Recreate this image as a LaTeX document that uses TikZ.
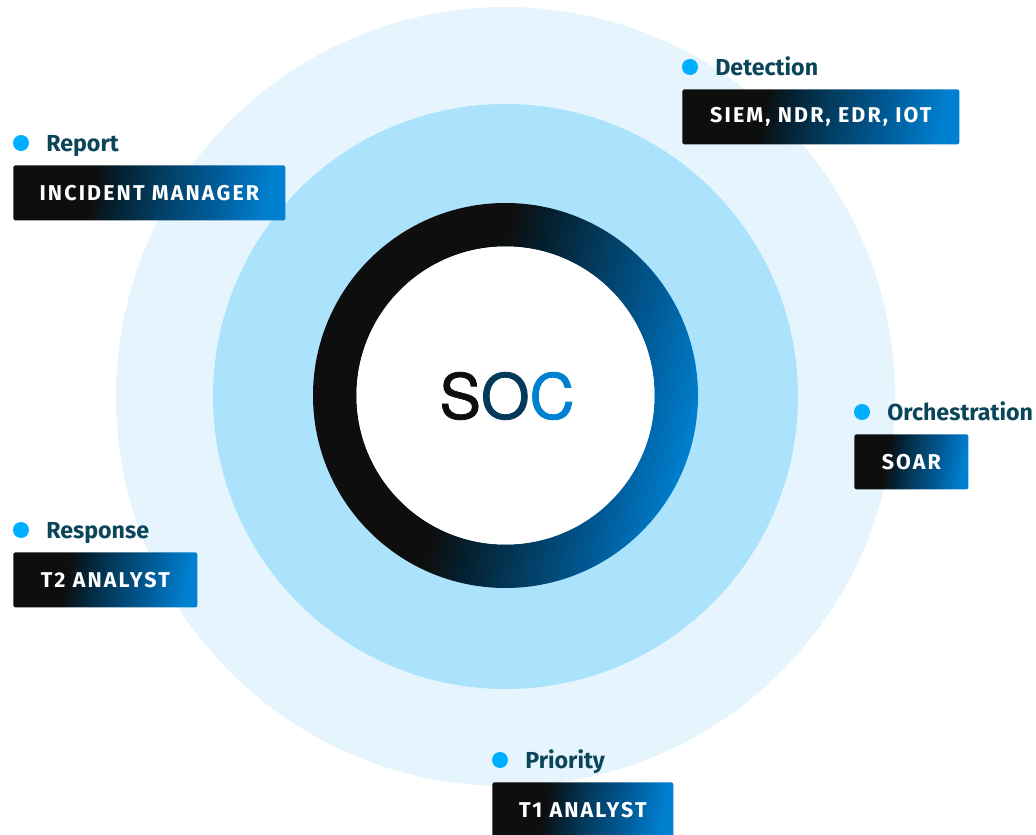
\documentclass[tikz,border=0pt]{standalone}
\usepackage{xcolor}
\usepackage{fontspec}
\setmainfont{Fira Sans}
\newfontfamily\toolfont[LetterSpace=10]{Fira Sans}
\newfontfamily\socfont[FakeBold=1.3]{TeX Gyre Heros}
\usepackage{tikz}

\definecolor{outerblue}{HTML}{E6F5FD}
\definecolor{innerblue}{HTML}{ACE3FC}
\definecolor{socdark}{HTML}{0E0E0E}
\definecolor{socdeep}{HTML}{04202F}
\definecolor{socnavy}{HTML}{033A5C}
\definecolor{socmid}{HTML}{005A96}
\definecolor{socblue}{HTML}{0080D0}
\definecolor{dotblue}{HTML}{00AEFF}
\definecolor{labteal}{HTML}{0B4559}

\pgfdeclarehorizontalshading{socfade}{100bp}{color(0bp)=(socdark); color(45bp)=(socdark); color(50bp)=(socdeep); color(57bp)=(socnavy); color(66bp)=(socmid); color(75bp)=(socblue); color(100bp)=(socblue)}
\pgfdeclarehorizontalshading{toolfade}{100bp}{color(0bp)=(socdark); color(38bp)=(socdark); color(43bp)=(socdeep); color(51bp)=(socnavy); color(63bp)=(socmid); color(75bp)=(socblue); color(100bp)=(socblue)}

\begin{document}
\begin{tikzpicture}[x=0.02cm,y=-0.02cm,
    dot/.style={circle,fill=dotblue,minimum size=0.32cm,inner sep=0pt},
    lab/.style={anchor=base west,inner sep=0pt,text=labteal,font=\fontsize{13.2}{15}\selectfont\bfseries},
    toolbox/.style={anchor=north west,shade,shading=toolfade,shading angle=-10,
        rounded corners=1.2pt,minimum height=1.1cm,inner sep=0pt,
        text=white,font=\toolfont\fontsize{12.2}{14}\selectfont\bfseries}]
    \useasboundingbox (0,0) rectangle (1036,835);
    \clip (0,0) rectangle (1036,835);

    % rings round the centre
    \fill[outerblue] (505.5,396.5) circle[radius=389.5];
    \fill[innerblue] (505.5,396.5) circle[radius=292.5];
    \shade[shading=socfade,shading angle=-14,even odd rule]
        (505.5,395.5) circle[radius=192.5] (505.5,395.5) circle[radius=149];
    \fill[white] (505.5,395.5) circle[radius=149];
    \node (soc) at (507,396) {\socfont\fontsize{35.5}{40}\selectfont
        {\color{socdark}S}{\color{socnavy}O}{\color{socblue}C}};

    % stages with their tools
    \foreach \bx/\by/\bw/\mylab/\mytool in {682/89/277/Detection/{SIEM, NDR, EDR, IOT},
            13/165/272/Report/{INCIDENT MANAGER},
            854/434/114/Orchestration/SOAR,
            13/552/184/Response/{T2 ANALYST},
            492/782/181/Priority/{T1 ANALYST}} {
        \node[dot] (dot-\mylab) at ({\bx+8},{\by-22}) {};
        \node[lab] (\mylab) at ({\bx+33},{\by-14}) {\mylab};
        \node[toolbox,minimum width={\bw*0.02cm}] (tool-\mylab) at (\bx,\by) {\mytool};
    }
\end{tikzpicture}
\end{document}
